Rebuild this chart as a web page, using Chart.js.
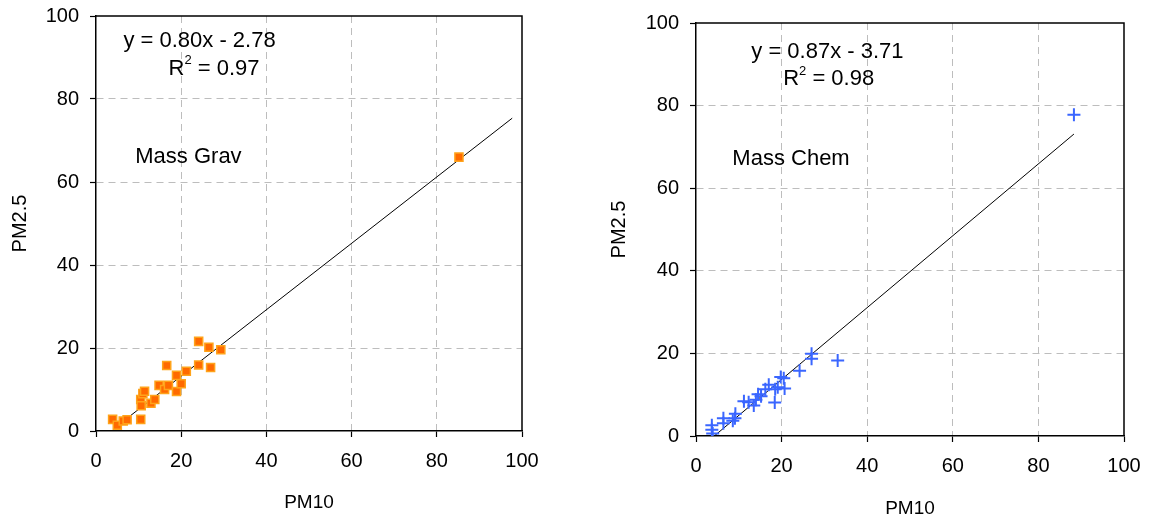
<!DOCTYPE html>
<html>
<head>
<meta charset="utf-8">
<script src="https://cdn.jsdelivr.net/npm/chart.js@4/dist/chart.umd.min.js"></script>
<style>
  html, body { margin: 0; padding: 0; background: #fff; }
  #wrap { position: relative; width: 1151px; height: 524px; }
  .box { position: absolute; top: 0; height: 524px; }
</style>
</head>
<body>
<div id="wrap">
  <div class="box" style="left:0;width:575px"><canvas id="gravChart"></canvas></div>
  <div class="box" style="left:575px;width:576px"><canvas id="chemChart"></canvas></div>
</div>
<script>
// Données
const axisTicks = [0, 20, 40, 60, 80, 100];

const gravPM10 = [3.9, 5.0, 6.4, 7.3, 10.5, 10.5, 10.6, 11.0, 11.4, 12.9, 13.8, 14.8, 16.1, 16.6, 17.0, 18.9, 18.9, 20.0, 21.2, 24.1, 24.1, 26.5, 26.9, 29.3, 85.2];
const gravPM25 = [2.8, 1.4, 2.4, 2.7, 2.8, 7.6, 6.1, 9.0, 9.6, 6.7, 7.6, 11.0, 10.0, 15.8, 11.0, 9.5, 13.4, 11.4, 14.4, 21.6, 15.9, 20.2, 15.3, 19.6, 66.0];

const chemPM10 = [88.3, 33.1, 27.0, 27.0, 24.2, 19.8, 20.5, 20.7, 18.5, 19.1, 18.4, 17.0, 16.2, 15.2, 14.5, 14.0, 13.5, 12.3, 11.2, 9.2, 9.1, 8.6, 6.4, 6.4, 3.7, 3.7, 3.9];
const chemPM25 = [77.8, 18.3, 19.9, 18.7, 15.8, 14.3, 14.0, 11.5, 11.3, 11.8, 8.1, 12.4, 11.3, 9.6, 10.1, 8.8, 7.4, 8.2, 8.4, 5.4, 4.3, 3.7, 4.3, 3.1, 2.6, 1.5, 0.6];

// Droites de régression : pente, ordonnée, étendue en x
const gravFit = { slope: 0.80, intercept: -2.78, xRange: [4.0, 97.7] };
const chemFit = { slope: 0.87, intercept: -3.71, xRange: [4.26, 88.3] };

const gravLabels = { eq: 'y = 0.80x - 2.78', r2: '0.97', name: 'Mass Grav' };
const chemLabels = { eq: 'y = 0.87x - 3.71', r2: '0.98', name: 'Mass Chem' };

const FONT = 'Liberation Sans, Arial, sans-serif';

function toPoints(xs, ys) {
    return xs.map((x, i) => ({ x: x, y: ys[i] }));
}

function fitLine(fit) {
    return fit.xRange.map(x => ({ x: x, y: fit.slope * x + fit.intercept }));
}

// Plugin : cadre du graphique + textes d'annotation
const annotPlugin = {
    id: 'annot',
    afterDraw(chart, args, opts) {
        const { ctx, chartArea: a, scales } = chart;
        ctx.save();
        ctx.strokeStyle = '#000';
        ctx.lineWidth = 1.5;
        ctx.beginPath();
        ctx.moveTo(a.left, a.top);
        ctx.lineTo(a.right, a.top);
        ctx.lineTo(a.right, a.bottom);
        ctx.stroke();

        ctx.fillStyle = '#000';
        ctx.font = '22px ' + FONT;
        ctx.textBaseline = 'middle';
        ctx.textAlign = 'center';
        const px = v => scales.x.getPixelForValue(v);
        const py = v => scales.y.getPixelForValue(v);

        ctx.fillText(opts.eq, px(opts.eqPos[0]), py(opts.eqPos[1]));
        ctx.fillText(opts.name, px(opts.namePos[0]), py(opts.namePos[1]));

        // R² avec exposant
        const rest = ' = ' + opts.r2;
        const wR = ctx.measureText('R').width;
        ctx.font = '13px ' + FONT;
        const w2 = ctx.measureText('2').width;
        ctx.font = '22px ' + FONT;
        const wRest = ctx.measureText(rest).width;
        const x0 = px(opts.r2Pos[0]) - (wR + w2 + wRest) / 2;
        const y0 = py(opts.r2Pos[1]);
        ctx.textAlign = 'left';
        ctx.fillText('R', x0, y0);
        ctx.font = '13px ' + FONT;
        ctx.fillText('2', x0 + wR, y0 - 8);
        ctx.font = '22px ' + FONT;
        ctx.fillText(rest, x0 + wR + w2, y0);
        ctx.restore();
    }
};

function makeScale(title, fitSize, titlePad, isX) {
    return {
        type: 'linear',
        min: 0,
        max: 100,
        afterBuildTicks: scale => { scale.ticks = axisTicks.map(v => ({ value: v })); },
        afterFit: scale => {
            if (isX) {
                scale.height = fitSize;
                scale.paddingLeft = 0;
                scale.paddingRight = 0;
            } else {
                scale.width = fitSize;
                scale.paddingTop = 0;
                scale.paddingBottom = 0;
            }
        },
        ticks: {
            color: '#000',
            padding: isX ? 12 : 11,
            font: { family: FONT, size: 20 }
        },
        grid: {
            color: c => (c.tick && (c.tick.value === 0 || c.tick.value === 100)) ? 'rgba(0,0,0,0)' : '#bdbdbd',
            lineWidth: 1,
            tickLength: 6,
            tickColor: '#000',
            tickWidth: 1.2
        },
        border: { color: '#000', width: 1.5, dash: [7, 5] },
        title: {
            display: true,
            text: title,
            color: '#000',
            font: { family: FONT, size: isX ? 19 : 20 },
            padding: isX ? { bottom: titlePad, top: 0 } : { top: titlePad, bottom: 0 }
        }
    };
}

function makeChart(id, cfg) {
    return new Chart(document.getElementById(id), {
        type: 'scatter',
        data: {
            datasets: [
                {
                    data: toPoints(cfg.xs, cfg.ys),
                    pointStyle: cfg.pointStyle,
                    pointRadius: cfg.radius,
                    pointHoverRadius: cfg.radius,
                    backgroundColor: cfg.fill,
                    borderColor: cfg.stroke,
                    borderWidth: cfg.borderWidth
                },
                {
                    type: 'line',
                    data: fitLine(cfg.fit),
                    borderColor: '#000',
                    borderWidth: 1,
                    pointRadius: 0,
                    fill: false
                }
            ]
        },
        options: {
            responsive: true,
            maintainAspectRatio: false,
            animation: false,
            layout: { padding: cfg.padding },
            plugins: {
                legend: { display: false },
                tooltip: { enabled: false },
                annot: cfg.labels
            },
            scales: {
                x: makeScale('PM10', cfg.xAxisHeight, cfg.xTitlePad, true),
                y: makeScale('PM2.5', cfg.yAxisWidth, cfg.yTitlePad, false)
            }
        },
        plugins: [annotPlugin]
    });
}

document.addEventListener('DOMContentLoaded', function() {
    makeChart('gravChart', {
        xs: gravPM10, ys: gravPM25, fit: gravFit,
        pointStyle: 'rect', radius: 5.7, fill: '#ff6a00', stroke: '#ffa31a', borderWidth: 1.5,
        padding: { top: 16, right: 53, bottom: 0, left: 0 },
        xAxisHeight: 93, yAxisWidth: 96, xTitlePad: 10, yTitlePad: 8,
        labels: Object.assign({ eqPos: [24.3, 94.0], r2Pos: [27.7, 87.3], namePos: [21.7, 66.1] }, gravLabels)
    });
    makeChart('chemChart', {
        xs: chemPM10, ys: chemPM25, fit: chemFit,
        pointStyle: 'cross', radius: 6.5, fill: '#3a66ff', stroke: '#3a66ff', borderWidth: 2,
        padding: { top: 23, right: 27, bottom: 0, left: 0 },
        xAxisHeight: 88, yAxisWidth: 121, xTitlePad: 4, yTitlePad: 32,
        labels: Object.assign({ eqPos: [30.7, 93.0], r2Pos: [31.0, 86.4], namePos: [22.2, 67.2] }, chemLabels)
    });
});
</script>
</body>
</html>
